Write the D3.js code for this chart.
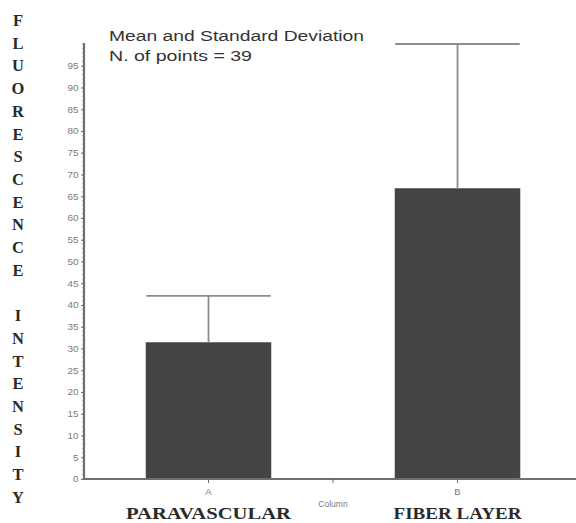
<!DOCTYPE html>
<html>
<head>
<meta charset="utf-8">
<script src="https://cdn.jsdelivr.net/npm/d3@7"></script>
<style>
  html, body { margin: 0; padding: 0; background: #fff; }
  svg { display: block; }
</style>
</head>
<body>
<svg id="chart" width="576" height="523"></svg>
<script>
// Column means and standard deviations
const columns = ["A", "B"];
const groupNames = ["PARAVASCULAR", "FIBER LAYER"];
const means = [31.3, 66.7];
const stdDevs = [10.8, 33.3];
const yTicks = [0, 5, 10, 15, 20, 25, 30, 35, 40, 45, 50, 55, 60, 65, 70, 75, 80, 85, 90, 95];
const titleLines = ["Mean and Standard Deviation", "N. of points = 39"];
const yTitle = "FLUORESCENCE INTENSITY";
const xTitle = "Column";

const svg = d3.select("#chart");

const x = d3.scaleBand().domain(columns).range([84, 582])
  .paddingInner(0.5).paddingOuter(0.25);
const y = d3.scaleLinear().domain([0, 100]).range([479, 44]);

const axisColor = "#6f6f6f";
const tickText = "#7a7a7a";

// bars
svg.append("g").selectAll("rect").data(columns).join("rect")
  .attr("x", d => x(d))
  .attr("y", (d, i) => y(means[i]))
  .attr("width", x.bandwidth())
  .attr("height", (d, i) => y(0) - y(means[i]))
  .attr("fill", "#444446")
  .attr("stroke", "#3a3a3a")
  .attr("stroke-width", 1);

// upper error bars
const err = svg.append("g").attr("stroke", "#8c8c8c").attr("stroke-width", 1.8);
columns.forEach((c, i) => {
  const cx = x(c) + x.bandwidth() / 2;
  err.append("line")
    .attr("x1", cx).attr("x2", cx)
    .attr("y1", y(means[i])).attr("y2", y(means[i] + stdDevs[i]));
  err.append("line")
    .attr("x1", x(c)).attr("x2", x(c) + x.bandwidth())
    .attr("y1", y(means[i] + stdDevs[i])).attr("y2", y(means[i] + stdDevs[i]));
});

// y axis with minor ticks every unit
const yAxisG = svg.append("g").attr("transform", "translate(84,0)");
yAxisG.selectAll("line.minor").data(d3.range(0, 101, 1)).join("line")
  .attr("class", "minor")
  .attr("x1", -2).attr("x2", 0)
  .attr("y1", d => y(d)).attr("y2", d => y(d))
  .attr("stroke", "#9a9a9a").attr("stroke-width", 0.8);
const yAxis = d3.axisLeft(y).tickValues(yTicks).tickSize(3).tickPadding(2);
yAxisG.call(yAxis);
yAxisG.select(".domain").remove();
yAxisG.selectAll(".tick line").attr("stroke", axisColor);
yAxisG.selectAll(".tick text")
  .attr("fill", tickText)
  .attr("font-family", "Liberation Sans, Arial, sans-serif")
  .attr("font-size", 9)
  .attr("transform", "scale(1.1,1)");
yAxisG.append("line")
  .attr("x1", 0).attr("x2", 0).attr("y1", y(0) + 1).attr("y2", 43)
  .attr("stroke", axisColor).attr("stroke-width", 2.2);

// x axis
const xAxisG = svg.append("g").attr("transform", "translate(0,479)");
xAxisG.append("line")
  .attr("x1", 83).attr("x2", 576).attr("y1", 0).attr("y2", 0)
  .attr("stroke", axisColor).attr("stroke-width", 2.2);
const tickXs = columns.map(c => x(c) + x.bandwidth() / 2);
tickXs.splice(1, 0, (tickXs[0] + tickXs[1]) / 2);
xAxisG.selectAll("line.tick").data(tickXs).join("line")
  .attr("class", "tick")
  .attr("x1", d => d).attr("x2", d => d)
  .attr("y1", 0).attr("y2", 4)
  .attr("stroke", axisColor).attr("stroke-width", 1);
xAxisG.selectAll("text.cat").data(columns).join("text")
  .attr("class", "cat")
  .attr("x", d => x(d) + x.bandwidth() / 2)
  .attr("y", 16)
  .attr("text-anchor", "middle")
  .attr("fill", tickText)
  .attr("font-family", "Liberation Sans, Arial, sans-serif")
  .attr("font-size", 9.5)
  .text(d => d);
xAxisG.append("text")
  .attr("x", tickXs[1]).attr("y", 28)
  .attr("text-anchor", "middle")
  .attr("fill", tickText)
  .attr("font-family", "Liberation Sans, Arial, sans-serif")
  .attr("font-size", 8.5)
  .text(xTitle);

// group names under the columns
const groupWidths = [165, 128];
svg.append("g").selectAll("text").data(groupNames).join("text")
  .attr("x", (d, i) => x(columns[i]) + x.bandwidth() / 2 - groupWidths[i] / 2)
  .attr("y", 519)
  .attr("textLength", (d, i) => groupWidths[i])
  .attr("lengthAdjust", "spacingAndGlyphs")
  .attr("fill", "#2a2a2a")
  .attr("font-family", "Liberation Serif, Times New Roman, serif")
  .attr("font-weight", "bold")
  .attr("font-size", 16)
  .text(d => d);

// title block
const titleWidths = [255, 143];
svg.append("g").selectAll("text").data(titleLines).join("text")
  .attr("x", 109)
  .attr("y", (d, i) => 41 + i * 20)
  .attr("textLength", (d, i) => titleWidths[i])
  .attr("lengthAdjust", "spacingAndGlyphs")
  .attr("fill", "#333")
  .attr("font-family", "Liberation Sans, Arial, sans-serif")
  .attr("font-size", 15.5)
  .text(d => d);

// vertical stacked y-axis title
const yt = svg.append("text")
  .attr("fill", "#2a2a2a")
  .attr("font-family", "Liberation Serif, Times New Roman, serif")
  .attr("font-weight", "bold")
  .attr("font-size", 16.5)
  .attr("text-anchor", "middle");
Array.from(yTitle).forEach((ch, i) => {
  yt.append("tspan")
    .attr("x", 18)
    .attr("y", 26 + i * 22.7)
    .text(ch === " " ? "\u00a0" : ch);
});
</script>
</body>
</html>
